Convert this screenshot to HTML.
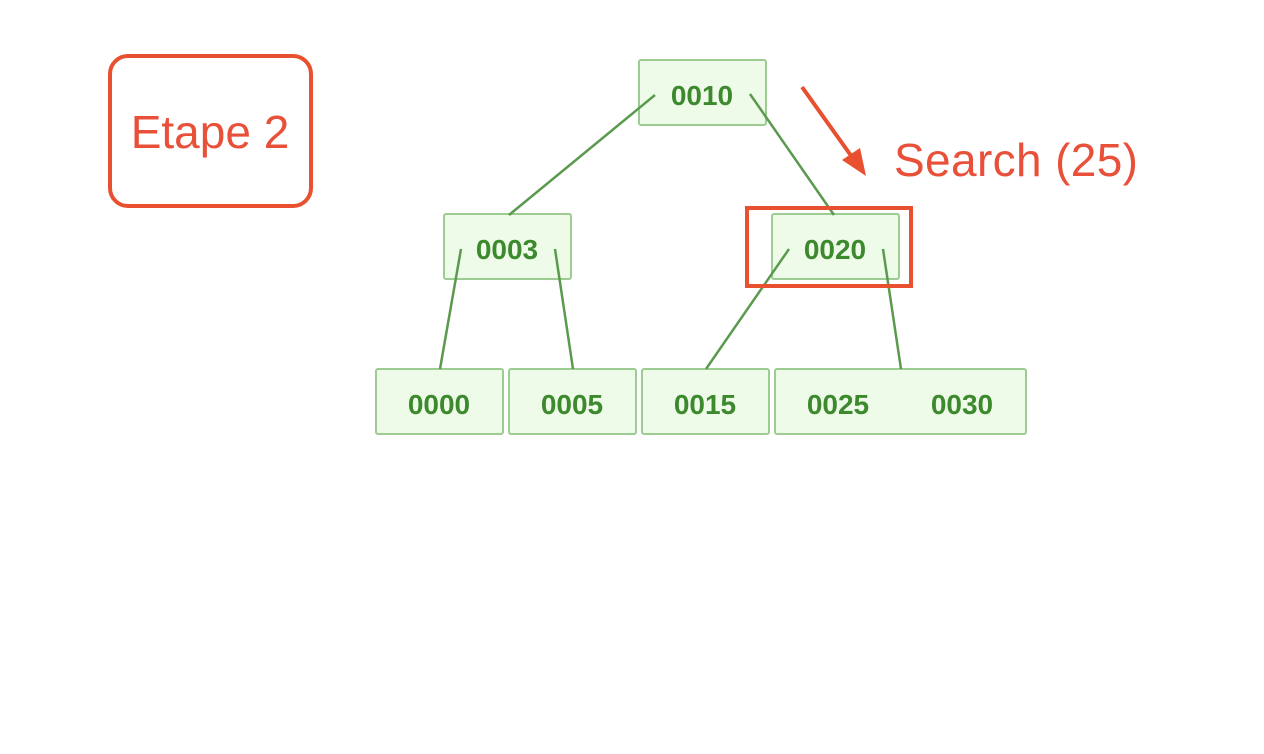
<!DOCTYPE html>
<html><head><meta charset="utf-8"><style>
body{margin:0;background:#fff;width:1264px;height:754px;overflow:hidden}
svg{display:block}
text{font-family:"Liberation Sans",sans-serif}
</style></head><body>
<svg width="1264" height="754">
<g fill="#eefbe9" stroke="#9ccc92" stroke-width="2">
<rect x="639" y="60" width="127" height="65" rx="2"/>
<rect x="444" y="214" width="127" height="65" rx="2"/>
<rect x="772" y="214" width="127" height="65" rx="2"/>
<rect x="376" y="369" width="127" height="65" rx="2"/>
<rect x="509" y="369" width="127" height="65" rx="2"/>
<rect x="642" y="369" width="127" height="65" rx="2"/>
<rect x="775" y="369" width="251" height="65" rx="2"/>
</g>
<g stroke="#5b9a4e" stroke-width="2.5" fill="none">
<line x1="655" y1="95" x2="509" y2="215"/>
<line x1="750" y1="94" x2="834" y2="215"/>
<line x1="461" y1="249" x2="440" y2="369"/>
<line x1="555" y1="249" x2="573" y2="369"/>
<line x1="789" y1="249" x2="706" y2="369"/>
<line x1="883" y1="249" x2="901" y2="369"/>
</g>
<g fill="#3d8a2e" font-size="28" font-weight="bold" text-anchor="middle">
<text x="702" y="105">0010</text>
<text x="507" y="259">0003</text>
<text x="835" y="259">0020</text>
<text x="439" y="414">0000</text>
<text x="572" y="414">0005</text>
<text x="705" y="414">0015</text>
<text x="838" y="414">0025</text>
<text x="962" y="414">0030</text>
</g>
<rect x="747" y="208" width="164" height="78" fill="none" stroke="#e8502f" stroke-width="4"/>
<g>
<line x1="802" y1="87" x2="852" y2="157" stroke="#e8502f" stroke-width="4"/>
<polygon points="866,176 842,160 860,148" fill="#e8502f"/>
</g>
<text x="894" y="176" font-size="46" textLength="244" fill="#e8503a">Search (25)</text>
<rect x="110" y="56" width="201" height="150" rx="18" fill="none" stroke="#e8502f" stroke-width="4"/>
<text x="210" y="148" font-size="46" fill="#e8503a" text-anchor="middle">Etape 2</text>
</svg>
</body></html>
